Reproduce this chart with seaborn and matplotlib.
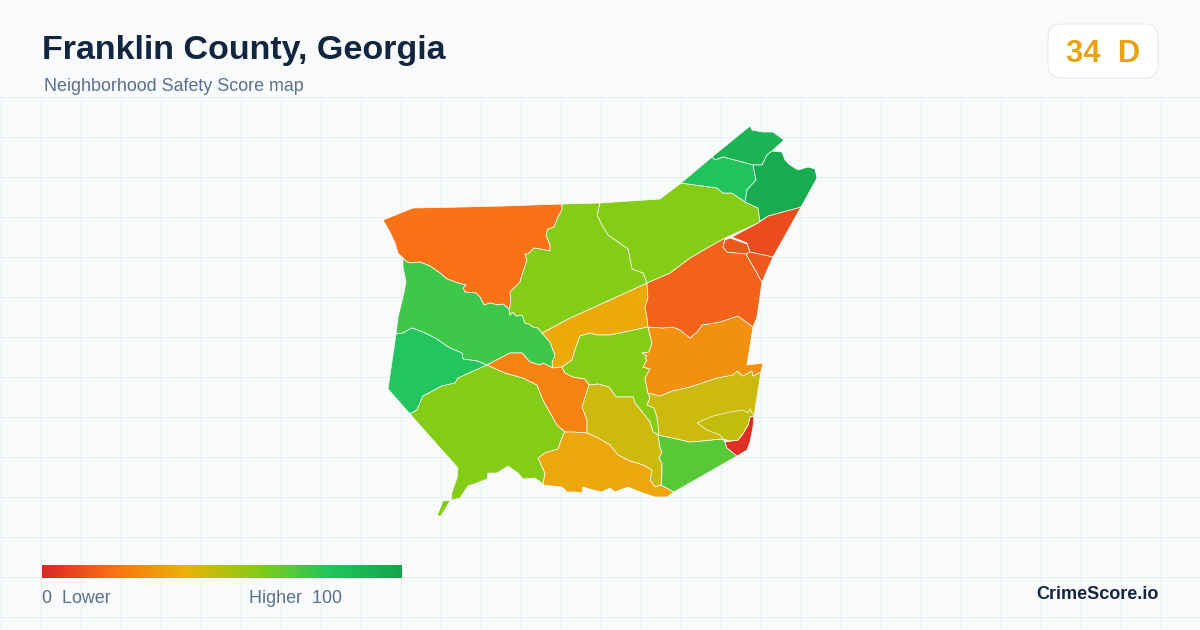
import numpy as np
import matplotlib
matplotlib.use('Agg')
import matplotlib.pyplot as plt
from matplotlib.patches import Polygon, FancyBboxPatch
import seaborn as sns

# tract outlines (x, y in image pixels)
nw_orange = [(383,220),(413,208),(463,207),(503,206),(562,204),(562,210),(558,217),(554,227),(548,229),(546,235),
             (550,245),(550,251),(540,249),(534,248),(528,254),(525,254),(527,260),(523,272),(520,282),(510,292),
             (511,302),(509,309),(503,304),(498,305),(490,303),(484,305),(480,297),(476,293),(465,292),(463,288),
             (466,285),(458,283),(447,279),(440,273),(430,266),(420,262),(412,263),(407,262),(403,258),(398,253),
             (395,243),(390,232)]
west_green = [(403,258),(407,262),(412,263),(420,262),(430,266),(440,273),(447,279),(458,283),(466,285),(463,288),
              (465,292),(476,293),(480,297),(484,305),(490,303),(498,305),(503,304),(509,309),(510,315),(513,312),
              (516,316),(522,315),(525,323),(529,324),(533,327),(538,328),(542,333),(550,342),(555,355),(552,363),
              (553,368),(543,363),(540,365),(530,362),(522,353),(510,353),(487,365),(477,361),(463,359),(462,353),
              (450,348),(435,338),(423,332),(412,328),(403,333),(396,334),(398,317),(403,297),(406,282),(403,267)]
sw_green = [(396,334),(403,333),(412,328),(423,332),(435,338),(450,348),(462,353),(463,359),(477,361),(487,365),
            (458,378),(455,383),(442,386),(423,396),(420,403),(417,410),(410,414),(388,389)]
south_lime = [(410,414),(417,410),(420,403),(423,396),(442,386),(455,383),(458,378),(487,365),(505,373),(523,378),
              (537,385),(543,400),(557,425),(565,432),(563,435),(558,449),(545,453),(538,458),(545,473),(543,484),
              (535,478),(523,479),(518,473),(508,466),(497,473),(488,473),(487,479),(477,483),(468,486),(460,498),
              (452,500),(450,501),(441,516),(437,516),(443,501),(451,500),(452,492),(457,478),(458,468)]
mid_orange = [(487,365),(510,353),(522,353),(530,362),(540,365),(543,363),(553,368),(559,367),(562,367),(565,373),
              (573,377),(585,379),(589,385),(582,407),(587,420),(587,433),(573,432),(565,432),(557,425),(543,400),
              (537,385),(523,378),(505,373)]
mid_amber = [(542,333),(570,318),(590,309),(647,283),(648,298),(645,307),(647,318),(648,327),(620,333),(610,335),
             (597,335),(590,333),(580,336),(575,350),(572,360),(562,367),(559,367),(553,368),(552,363),(555,355),
             (550,342)]
center_lime = [(562,367),(572,360),(575,350),(580,336),(590,333),(597,335),(610,335),(620,333),(648,327),(652,343),
               (649,352),(642,353),(647,356),(645,358),(647,360),(643,367),(650,369),(645,378),(647,388),(648,393),
               (650,398),(647,405),(654,408),(657,417),(658,425),(659,433),(658,435),(653,432),(650,422),(643,413),
               (635,403),(633,397),(625,397),(616,397),(609,387),(598,384),(589,385),(585,379),(573,377),(565,373)]
center_olive = [(589,385),(598,384),(609,387),(616,397),(625,397),(633,397),(635,403),(643,413),(650,422),(653,432),
                (658,435),(660,447),(662,452),(659,458),(662,463),(662,475),(661,485),(655,487),(650,480),(652,470),
                (643,465),(630,461),(618,455),(610,445),(598,438),(587,433),(587,420),(582,407)]
south_amber = [(565,432),(573,432),(587,433),(598,438),(610,445),(618,455),(630,461),(643,465),(652,470),(650,480),
               (655,487),(661,485),(674,492),(667,497),(655,497),(640,492),(628,487),(620,490),(615,492),(610,488),
               (602,492),(593,490),(583,487),(582,493),(575,492),(567,492),(562,487),(543,485),(545,473),(538,458),
               (545,453),(558,449),(563,435)]
se_green = [(658,435),(677,439),(690,442),(722,439),(725,442),(727,448),(737,456),(674,492),(661,485),(662,475),
            (662,463),(659,458),(662,452),(660,447)]
se_red = [(725,442),(738,440),(742,435),(748,425),(750,417),(754,416),(753,427),(750,442),(747,450),(737,456),(727,448)]
east_band = [(648,393),(660,396),(672,391),(690,387),(717,378),(733,375),(737,371),(743,376),(752,371),(753,376),
             (761,372),(757,397),(754,416),(750,417),(748,425),(742,435),(738,440),(730,441),(722,439),(690,442),
             (677,439),(658,435),(659,433),(658,425),(657,417),(654,408),(647,405),(650,398)]
east_inner = [(697,423),(713,416),(730,412),(743,410),(748,413),(750,409),(754,416),(750,417),(748,425),(742,435),
              (738,440),(730,441),(723,439),(720,435),(707,430)]
east_orange = [(648,327),(663,328),(673,327),(680,330),(690,338),(697,332),(702,325),(720,322),(738,316),(753,327),
               (747,365),(763,363),(761,372),(753,376),(752,371),(743,376),(737,371),(733,375),(717,378),(690,387),
               (672,391),(660,396),(648,393),(647,388),(645,378),(650,369),(643,367),(647,360),(645,358),(647,356),
               (642,353),(649,352),(652,343)]
ne_orange = [(647,283),(670,273),(690,258),(707,248),(725,238),(723,247),(727,252),(746,254),(762,282),(757,317),
             (753,327),(738,316),(720,322),(702,325),(697,332),(690,338),(680,330),(673,327),(663,328),(648,327),
             (647,318),(645,307),(648,298)]
ne_red = [(732,237),(758,223),(768,216),(801,207),(773,257),(750,252),(747,243)]
small_a = [(725,240),(730,238),(747,244),(750,252),(746,254),(727,252),(723,247)]
small_b = [(750,252),(773,257),(762,282),(746,254)]
north_lime_e = [(600,203),(660,199),(681,183),(695,185),(717,188),(723,193),(732,193),(745,202),(758,208),(760,221),
                (758,223),(725,238),(707,248),(690,258),(670,273),(647,283),(643,273),(632,269),(628,249),(608,235),
                (603,227),(597,215)]
north_lime_w = [(562,204),(600,203),(597,215),(603,227),(608,235),(628,249),(632,269),(643,273),(647,283),(590,309),
                (570,318),(542,333),(538,328),(533,327),(529,324),(525,323),(522,315),(516,316),(513,312),(510,315),
                (509,309),(511,302),(510,292),(520,282),(523,272),(527,260),(525,254),(528,254),(534,248),(540,249),
                (550,251),(550,245),(546,235),(548,229),(554,227),(558,217),(562,210)]
top_green = [(712,157),(750,126),(752,130),(763,132),(773,132),(784,140),(772,151),(767,155),(762,165),(753,165),
             (742,162),(723,157),(715,160)]
top_mid_green = [(681,183),(712,157),(715,160),(723,157),(742,162),(753,165),(756,180),(747,190),(745,202),(732,193),
                 (723,193),(717,188),(695,185)]
top_dark_green = [(772,151),(782,152),(785,160),(790,165),(798,170),(808,167),(815,169),(817,178),(801,207),(768,216),
                  (760,221),(758,208),(745,202),(747,190),(756,180),(753,165),(762,165),(767,155)]

tracts = [nw_orange, west_green, sw_green, south_lime, mid_orange, mid_amber, center_lime, center_olive,
          south_amber, se_green, se_red, east_band, east_inner, east_orange, ne_orange, ne_red, small_a,
          small_b, north_lime_e, north_lime_w, top_green, top_mid_green, top_dark_green]
scores = [20, 74, 80, 60, 25, 37, 60, 46, 36, 69, 2, 46, 48, 29, 16, 10, 13, 13, 60, 60, 90, 81, 95]

scale_colors = ['#dc2626', '#f97316', '#eab308', '#84cc16', '#22c55e', '#16a34a']

sns.set_theme(style='white')
plt.rcParams['font.family'] = ['Liberation Sans', 'DejaVu Sans']

cmap = sns.blend_palette(scale_colors, as_cmap=True)

fig = plt.figure(figsize=(12, 6.3), dpi=100, facecolor='#f8fafc')
ax = fig.add_axes([0, 0, 1, 1])
ax.set_facecolor('#f8fafc')

# background grid
ax.vlines(np.arange(0, 1200, 40) + 0.5, 96, 630, color='#e6eef2', lw=0.72, zorder=1)
ax.hlines(np.arange(96, 630, 40) + 0.5, 0, 1200, color='#e6eef2', lw=0.72, zorder=1)

for outline, score in zip(tracts, scores):
    ax.add_patch(Polygon(outline, closed=True, facecolor=cmap(score / 100), edgecolor='white',
                         lw=0.5, joinstyle='round', zorder=3))

# legend bar
gradient = np.linspace(0, 1, 360).reshape(1, -1)
ax.imshow(gradient, cmap=cmap, extent=(42, 402, 578, 565), aspect='auto', zorder=3)

ax.set_xlim(0, 1200)
ax.set_ylim(630, 0)
ax.axis('off')

ax.text(42, 59.5, 'Franklin County, Georgia', fontsize=24.5, fontweight='bold', color='#12263f', va='baseline')
ax.text(44, 91, 'Neighborhood Safety Score map', fontsize=12.9, color='#5a6f8c', va='baseline')

ax.add_patch(FancyBboxPatch((1062, 38), 82, 26, boxstyle='round,pad=14,rounding_size=14',
                            facecolor='white', edgecolor='#e2e8f0', lw=0.72, zorder=2))
ax.text(1103, 62, '34  D', fontsize=22.3, fontweight='bold', color='#eaa20f', ha='center', va='baseline', zorder=4)

ax.text(42, 603, '0  Lower', fontsize=12.9, color='#5a6f8c', va='baseline')
ax.text(249, 603, 'Higher  100', fontsize=12.85, color='#5a6f8c', va='baseline')
ax.text(1158.5, 599, 'CrimeScore.io', fontsize=12.95, fontweight='bold', color='#12263f', ha='right', va='baseline')

fig.savefig('out.png', dpi=100, facecolor=fig.get_facecolor())
